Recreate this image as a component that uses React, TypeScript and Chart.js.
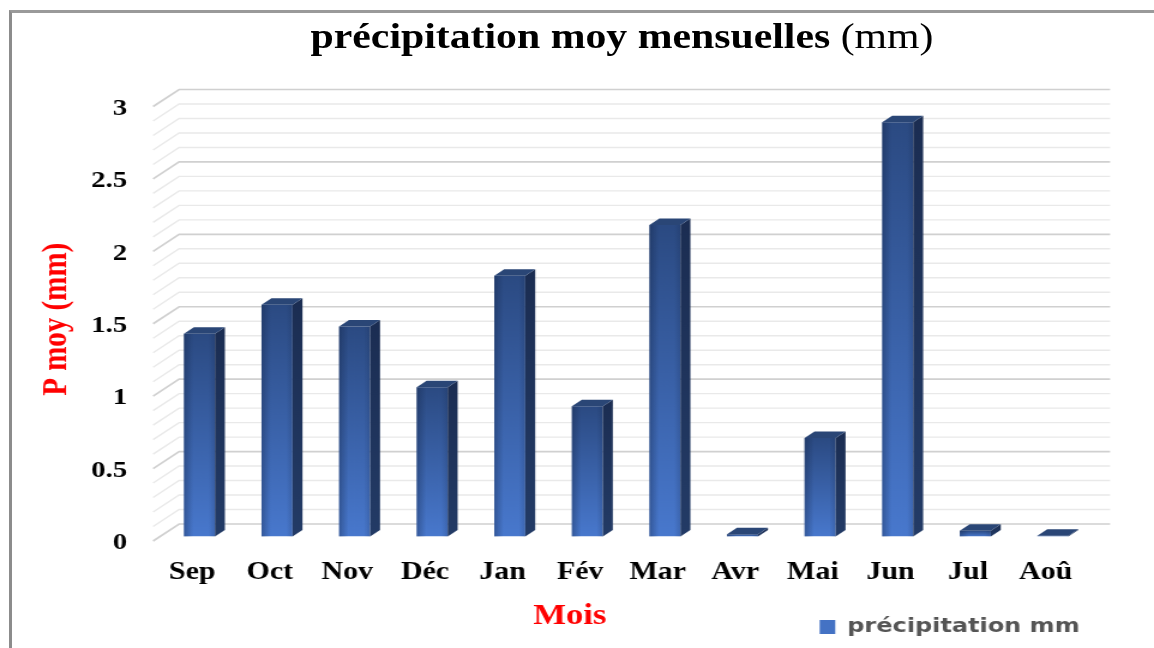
import React, { useEffect, useRef } from 'react';
import { Chart, registerables } from 'chart.js';

Chart.register(...registerables);

// ---- data ----
const months = ['Sep', 'Oct', 'Nov', 'Déc', 'Jan', 'Fév', 'Mar', 'Avr', 'Mai', 'Jun', 'Jul', 'Aoû'];
const precipitation = [1.4, 1.6, 1.45, 1.03, 1.8, 0.9, 2.15, 0.015, 0.68, 2.86, 0.04, 0.005];
const yTicks = [0, 0.5, 1, 1.5, 2, 2.5, 3];
const seriesLabel = 'précipitation mm';
const chartTitle = 'précipitation moy mensuelles';
const chartTitleUnit = '(mm)';
const xTitle = 'Mois';
const yTitle = 'P moy (mm)';

// ---- layout constants ----
const PAGE_W = 1154;
const PAGE_H = 648;
const SX = 1.2; // horizontal stretch of the drawing
const CANVAS_W = Math.round(PAGE_W / SX);

// 3D offsets (canvas px) relative to the bar plane
const FRONT = { dx: -6.25, dy: 4.5 };
const BACK = { dx: 15.4, dy: -12.5 };
const BAR3D = { dx: 8.3, dy: -6.5 };

const serif = '"Liberation Serif", "Times New Roman", serif';

const threeD = {
  id: 'threeD',
  beforeDatasetsDraw(chart: any) {
    const { ctx, chartArea, scales } = chart;
    const y = scales.y;
    const L = chartArea.left;
    const R = chartArea.right;
    const step = (yTicks[1] - yTicks[0]) / 5;
    const n = Math.round((yTicks[yTicks.length - 1] - yTicks[0]) / step);
    ctx.save();
    for (let i = 0; i <= n; i++) {
      const v = yTicks[0] + i * step;
      const py = y.getPixelForValue(v);
      const major = i % 5 === 0;
      ctx.strokeStyle = major ? '#d0d0d0' : '#e9e9e9';
      ctx.lineWidth = major ? 1.7 : 1.4;
      ctx.beginPath();
      ctx.moveTo(L + FRONT.dx, py + FRONT.dy);
      ctx.lineTo(L + BACK.dx, py + BACK.dy);
      ctx.lineTo(R + BACK.dx, py + BACK.dy);
      ctx.stroke();
    }
    ctx.restore();
  },
  afterDatasetsDraw(chart: any) {
    const { ctx } = chart;
    const meta = chart.getDatasetMeta(0);
    ctx.save();
    meta.data.forEach((bar: any) => {
      const { x, y, base, width } = bar.getProps(['x', 'y', 'base', 'width'], true);
      const xl = x - width / 2;
      const xr = x + width / 2;
      const h = base - y;
      // subtle shading on the front face
      if (h > 1) {
        const hg = ctx.createLinearGradient(xl, 0, xr, 0);
        hg.addColorStop(0, 'rgba(15,30,60,0.35)');
        hg.addColorStop(0.3, 'rgba(15,30,60,0)');
        hg.addColorStop(0.8, 'rgba(15,30,60,0)');
        hg.addColorStop(1, 'rgba(15,30,60,0.18)');
        ctx.fillStyle = hg;
        ctx.fillRect(xl, y, width, h);
      }
      // side face
      const sg = ctx.createLinearGradient(0, y + BAR3D.dy, 0, base);
      sg.addColorStop(0, '#1b2d52');
      sg.addColorStop(1, '#233b66');
      ctx.fillStyle = sg;
      ctx.beginPath();
      ctx.moveTo(xr, y);
      ctx.lineTo(xr + BAR3D.dx, y + BAR3D.dy);
      ctx.lineTo(xr + BAR3D.dx, base + BAR3D.dy);
      ctx.lineTo(xr, base);
      ctx.closePath();
      ctx.fill();
      // top face
      ctx.fillStyle = '#2a4676';
      ctx.beginPath();
      ctx.moveTo(xl, y);
      ctx.lineTo(xl + BAR3D.dx, y + BAR3D.dy);
      ctx.lineTo(xr + BAR3D.dx, y + BAR3D.dy);
      ctx.lineTo(xr, y);
      ctx.closePath();
      ctx.fill();
    });
    ctx.restore();
  },
};

export default function App() {
  const canvasRef = useRef<HTMLCanvasElement | null>(null);

  useEffect(() => {
    const canvas = canvasRef.current;
    if (!canvas) return;
    const chart = new Chart(canvas, {
      type: 'bar',
      data: {
        labels: months,
        datasets: [
          {
            label: seriesLabel,
            data: precipitation,
            borderWidth: 0,
            barPercentage: 0.4,
            categoryPercentage: 1.0,
            backgroundColor: (c: any) => {
              const ch = c.chart;
              const { ctx, chartArea, scales } = ch;
              if (!chartArea || c.type !== 'data' || !scales.y) return '#4472C4';
              const v = c.parsed ? c.parsed.y : c.raw;
              const top = scales.y.getPixelForValue(v);
              const base = scales.y.getPixelForValue(0);
              if (base - top < 1) return '#3a64b0';
              const g = ctx.createLinearGradient(0, top, 0, base);
              g.addColorStop(0, '#2b4a82');
              g.addColorStop(1, '#4878cd');
              return g;
            },
          },
        ],
      },
      options: {
        responsive: false,
        animation: false,
        devicePixelRatio: 1,
        layout: { padding: { left: 40, right: 52, top: 102, bottom: 1 } },
        plugins: {
          legend: {
            position: 'bottom',
            align: 'end',
            labels: {
              color: '#555555',
              font: { family: '"DejaVu Sans", sans-serif', size: 20, weight: 'bold' },
              boxWidth: 13,
              boxHeight: 14,
              padding: 10,
              generateLabels: (ch: any) => {
                const items = Chart.defaults.plugins.legend.labels.generateLabels(ch);
                items.forEach((it: any) => {
                  it.fillStyle = '#4472C4';
                  it.strokeStyle = '#3a62a8';
                  it.lineWidth = 0;
                });
                return items;
              },
            },
          },
          title: {
            display: true,
            text: xTitle,
            position: 'bottom',
            weight: 500,
            color: '#ff0000',
            font: { family: serif, size: 29, weight: 'bold', lineHeight: 1.2 },
            padding: { top: 7.3, bottom: -26.6 },
          },
          tooltip: { enabled: false },
        },
        scales: {
          x: {
            grid: { display: false, drawTicks: false },
            border: { display: false },
            ticks: {
              color: '#000',
              font: { family: serif, size: 25, weight: 'bold' },
              padding: 21,
              labelOffset: -6,
              maxRotation: 0,
              autoSkip: false,
            },
            afterFit: (s: any) => {
              s.height = 55;
            },
          },
          y: {
            min: yTicks[0],
            max: yTicks[yTicks.length - 1],
            grid: { display: false, drawTicks: false },
            border: { display: false },
            ticks: {
              stepSize: yTicks[1] - yTicks[0],
              color: '#000',
              font: { family: serif, size: 24, weight: 'bold' },
              padding: 28,
              labelOffset: 6.5,
              callback: (v: any) => String(Number(v)),
            },
            title: {
              display: true,
              text: yTitle,
              color: '#ff0000',
              font: { family: serif, size: 29, weight: 'bold', lineHeight: 1.2 },
              padding: { top: -9.9, bottom: 0 },
            },
            afterFit: (s: any) => {
              s.width = 93.9;
            },
          },
        },
      },
      plugins: [threeD],
    } as any);
    return () => chart.destroy();
  }, []);

  return (
    <div
      style={{
        position: 'fixed',
        left: 0,
        top: 0,
        width: PAGE_W,
        height: PAGE_H,
        background: '#ffffff',
        overflow: 'hidden',
      }}
    >
      <div
        style={{
          position: 'absolute',
          left: 9,
          top: 10,
          width: 1300,
          height: 800,
          borderLeft: '3px solid #8c8c8c',
          borderTop: '3px solid #9a9a9a',
          boxSizing: 'border-box',
        }}
      />
      <canvas
        ref={canvasRef}
        width={CANVAS_W}
        height={PAGE_H}
        style={{ position: 'absolute', left: 0, top: 0, width: PAGE_W + 'px', height: PAGE_H + 'px' }}
      />
      <div
        style={{
          position: 'absolute',
          left: 622,
          top: 16,
          transform: 'translateX(-50%) scaleX(1.16)',
          whiteSpace: 'nowrap',
          fontFamily: serif,
          fontSize: 36,
          lineHeight: '40px',
          color: '#000',
        }}
      >
        <b>{chartTitle}</b> {chartTitleUnit}
      </div>
    </div>
  );
}
